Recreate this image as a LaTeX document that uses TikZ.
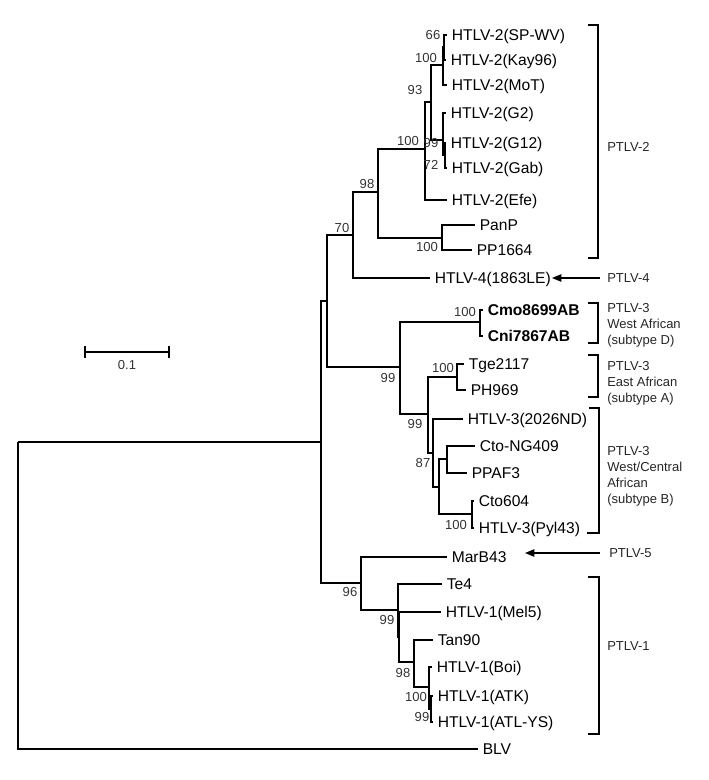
\documentclass[tikz,border=0pt]{standalone}
\usepackage{fontspec}
\setmainfont{Liberation Sans}
\usetikzlibrary{arrows.meta}
\tikzset{
  branch/.style={line width=1.25pt, line join=miter},
  leaf/.style={anchor=base west, inner sep=0pt, xshift=3.4pt, yshift=-4.2pt, font=\fontsize{11.7pt}{14pt}\selectfont},
  boot/.style={anchor=base, inner sep=0pt, yshift=-3.5pt, text=black!80, font=\fontsize{9.8pt}{11pt}\selectfont},
  side/.style={anchor=north west, inner sep=0pt, align=left, text=black!85, font=\fontsize{9.75pt}{12pt}\selectfont},
  bracketline/.style={line width=1.25pt},
  pointer/.style={line width=1pt, -{Triangle[length=7pt,width=5.5pt]}},
}
\begin{document}
\begin{tikzpicture}[x=0.75pt, y=-0.75pt]
\useasboundingbox (0,0) rectangle (708,780);
% internal nodes and leaf ends
\coordinate (r) at (18,442);
\coordinate (in) at (321,442);
\coordinate (nA) at (327,301);
\coordinate (n70) at (353,235);
\coordinate (n98) at (378,192);
\coordinate (n100a) at (425,149);
\coordinate (n93) at (431,102);
\coordinate (nK) at (443,65);
\coordinate (n66) at (444,47);
\coordinate (eSP) at (447,35);
\coordinate (eKay) at (446,60);
\coordinate (eMoT) at (447,85);
\coordinate (n99) at (443,140);
\coordinate (eG2) at (446,113);
\coordinate (n72) at (445,155);
\coordinate (eG12) at (446,143);
\coordinate (eGab) at (447,168);
\coordinate (eEfe) at (447,200);
\coordinate (n100p) at (442,238);
\coordinate (ePanP) at (475,225);
\coordinate (ePP) at (472,250);
\coordinate (eH4) at (430,278);
\coordinate (n99c) at (400,367);
\coordinate (n100c) at (480,322);
\coordinate (eCmo) at (483,310);
\coordinate (eCni) at (483,336);
\coordinate (n99d) at (428,414);
\coordinate (n100t) at (457,377);
\coordinate (eTge) at (464,364);
\coordinate (ePH) at (466,390);
\coordinate (n433) at (433,453);
\coordinate (e2026) at (463,419);
\coordinate (n87) at (439,487);
\coordinate (nCP) at (447,459);
\coordinate (eCto) at (475,446);
\coordinate (ePPAF) at (467,473);
\coordinate (n100py) at (472,514);
\coordinate (eCtoB) at (474,501);
\coordinate (ePyl) at (474,528);
\coordinate (n96) at (361,583);
\coordinate (eMar) at (447,557);
\coordinate (n99e) at (398,610);
\coordinate (eTe4) at (442,584);
\coordinate (nX) at (399,637);
\coordinate (eMel) at (441,612);
\coordinate (n98b) at (414,662);
\coordinate (eTan) at (433,640);
\coordinate (n100e) at (429,687);
\coordinate (eBoi) at (432,667);
\coordinate (n99f) at (431,709);
\coordinate (eATK) at (433,696);
\coordinate (eATL) at (433,722);
\coordinate (eBLV) at (478,749);
% branches
\foreach \p/\c in {r/in, r/eBLV, in/nA, in/n96, nA/n70, nA/n99c, n70/n98, n70/eH4,
  n98/n100a, n98/n100p, n100a/n93, n100a/eEfe, n93/nK, n93/n99, nK/n66, nK/eMoT,
  n66/eSP, n66/eKay, n99/eG2, n99/n72, n72/eG12, n72/eGab, n100p/ePanP, n100p/ePP,
  n99c/n100c, n99c/n99d, n100c/eCmo, n100c/eCni, n99d/n100t, n99d/n433, n100t/eTge, n100t/ePH,
  n433/e2026, n433/n87, n87/nCP, n87/n100py, nCP/eCto, nCP/ePPAF, n100py/eCtoB, n100py/ePyl,
  n96/eMar, n96/n99e, n99e/eTe4, n99e/nX, nX/eMel, nX/n98b, n98b/eTan, n98b/n100e,
  n100e/eBoi, n100e/n99f, n99f/eATK, n99f/eATL}
  \draw[branch] (\p) |- (\c);
% leaf labels
\node[leaf] (tSP) at (eSP) {HTLV-2(SP-WV)};
\node[leaf] (tKay) at (eKay) {HTLV-2(Kay96)};
\node[leaf] (tMoT) at (eMoT) {HTLV-2(MoT)};
\node[leaf] (tG2) at (eG2) {HTLV-2(G2)};
\node[leaf] (tG12) at (eG12) {HTLV-2(G12)};
\node[leaf] (tGab) at (eGab) {HTLV-2(Gab)};
\node[leaf] (tEfe) at (eEfe) {HTLV-2(Efe)};
\node[leaf] (tPanP) at (ePanP) {PanP};
\node[leaf] (tPP) at (ePP) {PP1664};
\node[leaf] (tH4) at (eH4) {HTLV-4(1863LE)};
\node[leaf] (tCmo) at (eCmo) {\bfseries Cmo8699AB};
\node[leaf] (tCni) at (eCni) {\bfseries Cni7867AB};
\node[leaf] (tTge) at (eTge) {Tge2117};
\node[leaf] (tPH) at (ePH) {PH969};
\node[leaf] (t2026) at (e2026) {HTLV-3(2026ND)};
\node[leaf] (tCto) at (eCto) {Cto-NG409};
\node[leaf] (tPPAF) at (ePPAF) {PPAF3};
\node[leaf] (tCtoB) at (eCtoB) {Cto604};
\node[leaf] (tPyl) at (ePyl) {HTLV-3(Pyl43)};
\node[leaf] (tMar) at (eMar) {MarB43};
\node[leaf] (tTe4) at (eTe4) {Te4};
\node[leaf] (tMel) at (eMel) {HTLV-1(Mel5)};
\node[leaf] (tTan) at (eTan) {Tan90};
\node[leaf] (tBoi) at (eBoi) {HTLV-1(Boi)};
\node[leaf] (tATK) at (eATK) {HTLV-1(ATK)};
\node[leaf] (tATL) at (eATL) {HTLV-1(ATL-YS)};
\node[leaf] (tBLV) at (eBLV) {BLV};
% bootstrap values
\node[boot] (b66) at (433,35) {66};
\node[boot] (b100k) at (426,58) {100};
\node[boot] (b93) at (415,90) {93};
\node[boot] (b100a) at (408,141) {100};
\node[boot] (b99) at (431,143) {99};
\node[boot] (b72) at (431,165) {72};
\node[boot] (b98) at (367,184) {98};
\node[boot] (b70) at (342,228) {70};
\node[boot] (b100p) at (427,247) {100};
\node[boot] (b100c) at (465,312) {100};
\node[boot] (b100t) at (443,368) {100};
\node[boot] (b99c) at (388,378) {99};
\node[boot] (b99d) at (415,424) {99};
\node[boot] (b87) at (423,463) {87};
\node[boot] (b100py) at (456,525) {100};
\node[boot] (b96) at (350,592) {96};
\node[boot] (b99e) at (387,620) {99};
\node[boot] (b98b) at (403,673) {98};
\node[boot] (b100e) at (416,697) {100};
\node[boot] (b99f) at (422,717) {99};
% brackets
\coordinate (k2a) at (588,25); \coordinate (k2b) at (598,25);
\coordinate (k2c) at (598,258); \coordinate (k2d) at (588,258);
\draw[bracketline] (k2a) -- (k2b) -- (k2c) -- (k2d);
\coordinate (kDa) at (588,303); \coordinate (kDb) at (598,303);
\coordinate (kDc) at (598,343); \coordinate (kDd) at (588,343);
\draw[bracketline] (kDa) -- (kDb) -- (kDc) -- (kDd);
\coordinate (kAa) at (588,355); \coordinate (kAb) at (598,355);
\coordinate (kAc) at (598,397); \coordinate (kAd) at (588,397);
\draw[bracketline] (kAa) -- (kAb) -- (kAc) -- (kAd);
\coordinate (kBa) at (589,408); \coordinate (kBb) at (599,408);
\coordinate (kBc) at (599,533); \coordinate (kBd) at (587,533);
\draw[bracketline] (kBa) -- (kBb) -- (kBc) -- (kBd);
\coordinate (k1a) at (588,577); \coordinate (k1b) at (599,577);
\coordinate (k1c) at (599,734); \coordinate (k1d) at (588,734);
\draw[bracketline] (k1a) -- (k1b) -- (k1c) -- (k1d);
% side labels
\node[side] (s2) at (607,142.4) {PTLV-2};
\node[side] (s4) at (607,273.4) {PTLV-4};
\node[side] (sD) at (607,303.4) {PTLV-3\\West African\\(subtype D)};
\node[side] (sA) at (607,361.4) {PTLV-3\\East African\\(subtype A)};
\node[side] (sB) at (607,446.4) {PTLV-3\\West/Central\\African\\(subtype B)};
\node[side] (s5) at (609,548.4) {PTLV-5};
\node[side] (s1) at (607,641.4) {PTLV-1};
% arrows
\coordinate (a4) at (600,278); \coordinate (h4) at (552,278);
\draw[pointer] (a4) -- (h4);
\coordinate (a5) at (600,553); \coordinate (h5) at (525,553);
\draw[pointer] (a5) -- (h5);
% scale bar
\coordinate (sbl) at (85,352); \coordinate (sbr) at (169,352);
\draw[line width=1.25pt] (sbl) -- (sbr);
\draw[line width=1.25pt] ([yshift=4.5pt]sbl) -- ([yshift=-4.5pt]sbl);
\draw[line width=1.25pt] ([yshift=4.5pt]sbr) -- ([yshift=-4.5pt]sbr);
\node[boot, font=\fontsize{9.75pt}{12pt}\selectfont] (sbt) at (127,365) {0.1};
\end{tikzpicture}
\end{document}
